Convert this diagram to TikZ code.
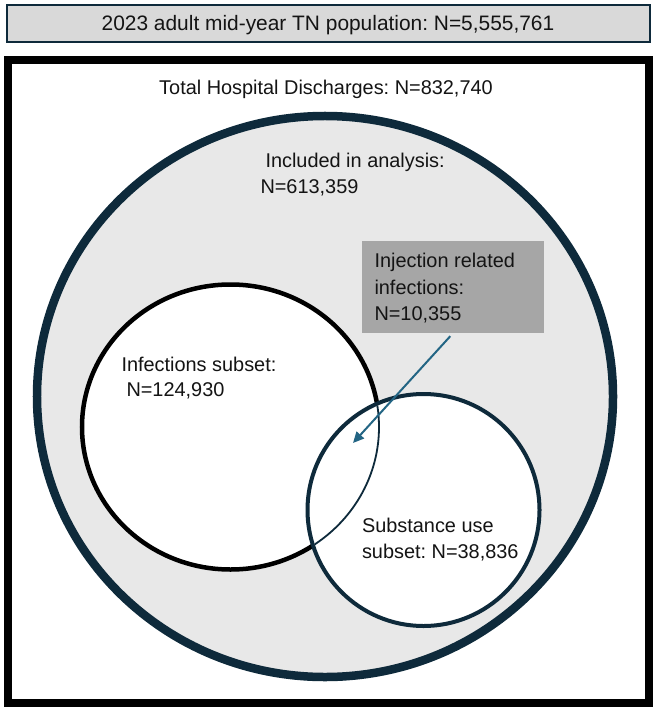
\documentclass[tikz,border=0pt]{standalone}
\usepackage{fontspec}
\setmainfont{Liberation Sans}
\usetikzlibrary{arrows.meta}
\frenchspacing
\definecolor{navy}{HTML}{0E2A3B}
\definecolor{topgray}{HTML}{D9D9D9}
\definecolor{circgray}{HTML}{E8E8E8}
\definecolor{boxgray}{HTML}{A6A6A6}
\definecolor{arrowblue}{HTML}{236584}
\tikzset{
  lbl/.style={inner sep=0pt, outer sep=0pt, font=\fontsize{19.9bp}{26bp}\selectfont, text=black!92},
  lblw/.style={lbl, anchor=base west},
  topbox/.style={draw=navy, line width=2bp, fill=topgray, minimum width=643bp, minimum height=37bp, inner sep=0pt},
  injbox/.style={fill=boxgray, minimum width=182bp, minimum height=92bp, inner sep=0pt},
  pointer/.style={draw=arrowblue, line width=2bp, -{Triangle[length=11bp,width=10bp]}, shorten <=4bp},
}
\begin{document}
\begin{tikzpicture}[x=1bp,y=-1bp]
\useasboundingbox (0,0) rectangle (657,711);
% top population box
\node[topbox] (pop) at (328.5,23.5) {};
\node[lbl, anchor=base, font=\fontsize{20.9bp}{26bp}\selectfont] (poptxt) at (328,31) {2023 adult mid-year TN population: N=5,555,761};
% outer frame
\draw[line width=8bp] (8,60) rectangle (649,703);
% included-in-analysis ellipse
\draw[fill=circgray, draw=navy, line width=8.5bp] (325,396.5) ellipse [x radius=288bp, y radius=280.5bp];
% infections ellipse
\draw[fill=white, draw=black, line width=4.5bp] (230.5,427) ellipse [x radius=148.5bp, y radius=142.5bp];
% substance circle
\draw[fill=white, draw=navy, line width=4bp] (423.5,510) circle [radius=116bp];
\begin{scope}
  \clip (423.5,510) circle [radius=114bp];
  \draw[draw=navy, line width=1.8bp] (230.5,427) ellipse [x radius=148.5bp, y radius=142.5bp];
\end{scope}
% injection box
\node[injbox] (inj) at (453,287) {};
\coordinate (tip) at (353,443);
\draw[pointer] (inj.south) -- (tip);
% labels
\node[lbl, anchor=base] (total) at (326,95) {Total Hospital Discharges: N=832,740};
\node[lblw] (inc1) at (265.5,167) {Included in analysis:};
\node[lblw] (inc2) at (260.5,193) {N=613,359};
\node[lblw] (inf1) at (121.5,371) {Infections subset:};
\node[lblw] (inf2) at (126.5,396) {N=124,930};
\node[lblw] (inj1) at (374.5,267) {Injection related};
\node[lblw] (inj2) at (374.5,294) {infections:};
\node[lblw] (inj3) at (374.5,320) {N=10,355};
\node[lblw] (sub1) at (362,532) {Substance use};
\node[lblw] (sub2) at (362,558) {subset: N=38,836};
\end{tikzpicture}
\end{document}
